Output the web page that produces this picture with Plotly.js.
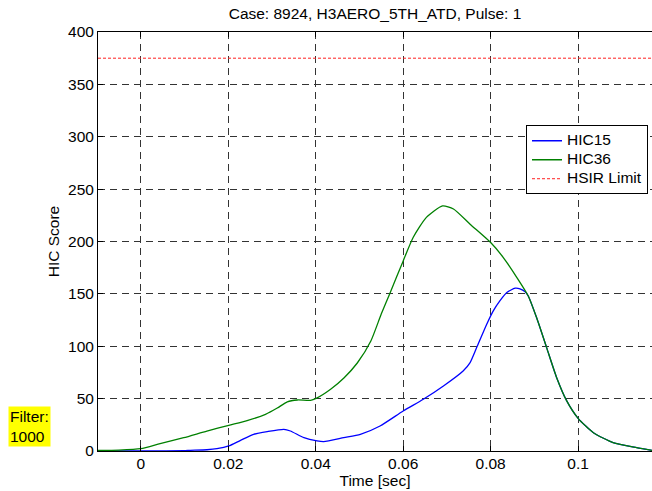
<!DOCTYPE html>
<html>
<head>
<meta charset="utf-8">
<script src="https://cdn.plot.ly/plotly-3.0.1.min.js"></script>
<style>
html,body{margin:0;padding:0;background:#fff;overflow:hidden;}
#chart{width:652px;height:491px;}
</style>
</head>
<body>
<div id="chart"></div>
<script>
// HIC15 (blue) time [sec] and score
var tHIC15 = [-0.0099, -0.005, 0, 0.0044, 0.0098, 0.0113, 0.0151, 0.0174, 0.0201, 0.0228, 0.0258, 0.0289, 0.0327, 0.0342, 0.0373, 0.0403, 0.0418, 0.0464, 0.0502, 0.0547, 0.06, 0.0646, 0.0692, 0.0737, 0.0753, 0.0768, 0.0791, 0.0806, 0.0821, 0.0837, 0.0856, 0.0867, 0.0879, 0.0886, 0.0905, 0.0928, 0.0951, 0.0974, 0.1, 0.1035, 0.108, 0.1134, 0.117];
var vHIC15 = [0, 0, 0.1, 0.2, 0.3, 0.6, 1.2, 2.2, 4.8, 10.2, 15.9, 18.5, 20.7, 19.1, 12.7, 9.6, 8.9, 12.7, 15.9, 23.9, 38.2, 49.4, 62.1, 76.4, 84.4, 98.7, 121, 133.8, 143.3, 151.3, 155.4, 154.8, 151.9, 148, 127.4, 98.7, 70, 47.8, 31.2, 17.5, 8, 3.2, 0.6];
// HIC36 (green)
var tHIC36 = [-0.0099, -0.005, 0, 0.0044, 0.0098, 0.0151, 0.0201, 0.0243, 0.0285, 0.0312, 0.0335, 0.0358, 0.0388, 0.0401, 0.0434, 0.0465, 0.0495, 0.0526, 0.055, 0.0569, 0.06, 0.0623, 0.0653, 0.069, 0.0715, 0.0753, 0.08, 0.0829, 0.086, 0.0886, 0.0905, 0.0928, 0.0951, 0.0974, 0.1, 0.1035, 0.108, 0.1134, 0.117];
var vHIC36 = [0.5, 0.8, 2.2, 7, 12.7, 19, 24.5, 29, 35, 41, 47, 48.7, 48.4, 50.3, 59, 70, 84, 105, 131, 150, 181.5, 204, 223, 234, 231, 216.5, 199, 184.7, 165.6, 148, 127.4, 98.7, 70, 47.8, 31.2, 17.5, 8, 3.2, 0.6];
// HSIR limit
var hsirLimit = 375;
var xRange = [-0.0098, 0.1169];
var yRange = [0, 400];
var xTicks = [0, 0.02, 0.04, 0.06, 0.08, 0.1];
var xTickText = ['0', '0.02', '0.04', '0.06', '0.08', '0.1'];
var yTicks = [0, 50, 100, 150, 200, 250, 300, 350, 400];
var seriesNames = ['HIC15', 'HIC36', 'HSIR Limit'];

var FONT = 'Liberation Sans, Arial, sans-serif';
var FS = 15.5;
function big(s) { return '<span style="font-size:' + FS + 'px">' + s + '</span>'; }

var traces = [
  {x: tHIC15, y: vHIC15, type: 'scatter', mode: 'lines', name: big(seriesNames[0]),
   line: {color: '#0000ff', width: 1.3, shape: 'spline', smoothing: 0.6}},
  {x: tHIC36, y: vHIC36, type: 'scatter', mode: 'lines', name: big(seriesNames[1]),
   line: {color: '#008000', width: 1.3, shape: 'spline', smoothing: 0.6}},
  {x: xRange, y: [hsirLimit, hsirLimit], type: 'scatter', mode: 'lines', name: big(seriesNames[2]),
   line: {color: '#ff2020', width: 1, dash: '3px,2px'}}
];

var layout = {
  width: 652, height: 491,
  margin: {l: 98, r: 0, t: 32, b: 40, pad: 0},
  paper_bgcolor: '#ffffff', plot_bgcolor: '#ffffff',
  font: {family: FONT, size: FS, color: '#000'},
  title: {text: 'Case: 8924, H3AERO_5TH_ATD, Pulse: 1', font: {family: FONT, size: FS, color: '#000'},
          x: 0.5, xref: 'paper', xanchor: 'center', y: 1, yref: 'paper', yanchor: 'bottom', pad: {b: 13}},
  showlegend: true,
  legend: {x: 0.9928, xanchor: 'right', y: 0.7775, yanchor: 'top',
           bgcolor: '#ffffff', bordercolor: '#000', borderwidth: 1,
           font: {family: FONT, size: 11.5, color: '#000'}, tracegroupgap: 0, itemwidth: 30},
  xaxis: {range: xRange, tickvals: xTicks, ticktext: xTickText, ticks: 'inside', ticklen: 5,
          tickcolor: '#000', showline: true, linecolor: '#000', linewidth: 1, mirror: 'ticks',
          showgrid: true, gridcolor: '#333', gridwidth: 1, griddash: '7px,5px', zeroline: false,
          ticklabelstandoff: -2,
          tickfont: {family: FONT, size: FS, color: '#000'},
          title: {text: 'Time [sec]', font: {family: FONT, size: FS, color: '#000'}, standoff: 0}},
  yaxis: {range: yRange, tickvals: yTicks, ticks: 'inside', ticklen: 5, tickcolor: '#000',
          showline: true, linecolor: '#000', linewidth: 1, mirror: false,
          showgrid: true, gridcolor: '#333', gridwidth: 1, griddash: '7px,5px', zeroline: false,
          tickfont: {family: FONT, size: FS, color: '#000'},
          title: {text: 'HIC Score', font: {family: FONT, size: FS, color: '#000'}, standoff: 4}},
  annotations: [
    {text: 'Filter:<br>1000', xref: 'paper', yref: 'paper', x: (8 - 98) / 554, y: (451 - 406) / 419,
     xanchor: 'left', yanchor: 'top', showarrow: false, align: 'left', bgcolor: '#ffff00',
     borderpad: 1, font: {family: FONT, size: FS, color: '#000'}}
  ]
};

Plotly.newPlot('chart', traces, layout, {staticPlot: true, displayModeBar: false});
</script>
</body>
</html>
